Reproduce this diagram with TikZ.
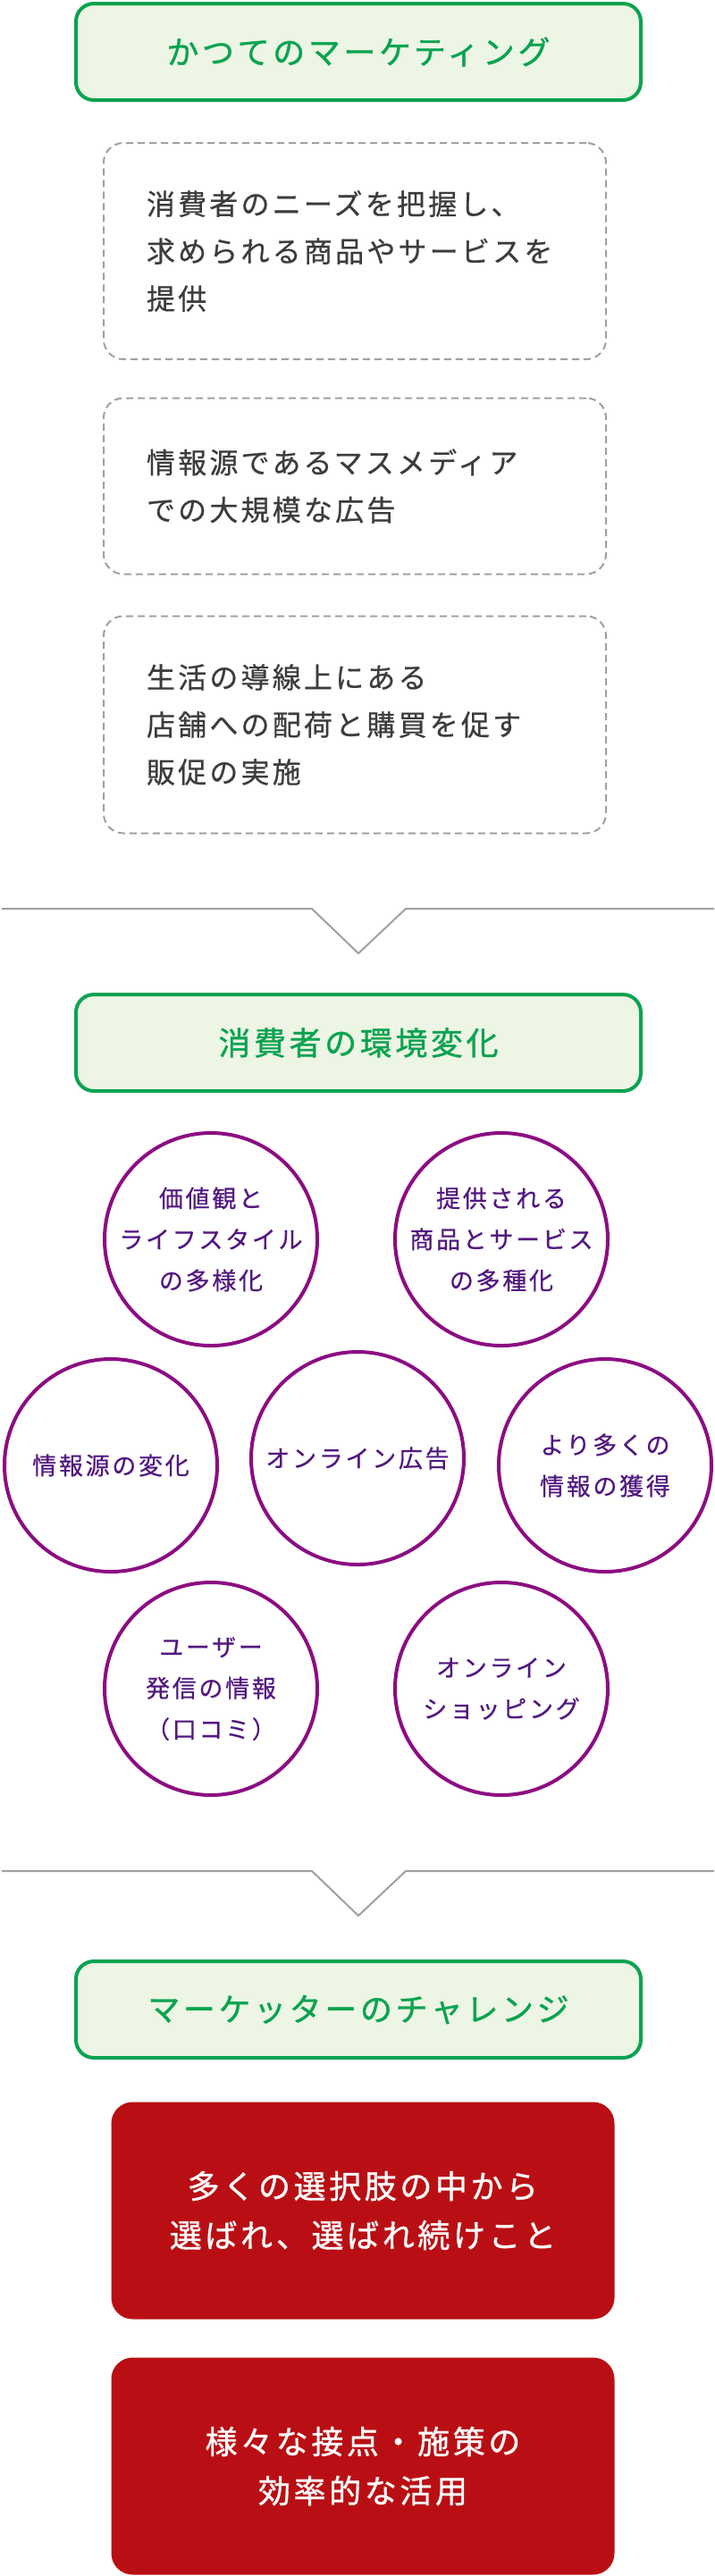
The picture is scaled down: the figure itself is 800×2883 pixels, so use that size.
\documentclass[tikz,border=0pt]{standalone}
\usepackage{fontspec}
\newfontfamily\jpfont[LetterSpace=10,FakeBold=0.6]{Noto Sans CJK JP}
\newfontfamily\jphead[LetterSpace=10,FakeBold=1]{Noto Sans CJK JP}
\usetikzlibrary{positioning}
\definecolor{mkgreen}{RGB}{10,163,80}
\definecolor{mkpale}{RGB}{237,245,228}
\definecolor{mkgray}{RGB}{160,160,160}
\definecolor{mktext}{RGB}{60,60,60}
\definecolor{mkplum}{RGB}{140,12,130}
\definecolor{mkink}{RGB}{82,24,128}
\definecolor{mkred}{RGB}{185,15,20}
\tikzset{headbox/.style={draw=mkgreen,fill=mkpale,line width=4pt,rounded corners=20pt,
    minimum width=632pt,minimum height=108pt,text=mkgreen,
    font=\jphead\fontsize{36}{44}\selectfont}}
\tikzset{oldbox/.style={draw=mkgray,line width=2pt,dash pattern=on 8pt off 5pt,
    rounded corners=22pt,minimum width=562pt,text width=466pt,inner sep=0pt,
    align=left,text=mktext,font=\jpfont\fontsize{32}{53}\selectfont}}
\tikzset{trend/.style={circle,draw=mkplum,line width=4pt,minimum size=238pt,inner sep=0pt,
    align=center,text=mkink,font=\jpfont\fontsize{27}{46}\selectfont}}
\tikzset{taskbox/.style={fill=mkred,rounded corners=24pt,minimum width=563pt,
    minimum height=243pt,align=center,text=white,
    font=\jphead\fontsize{36}{55}\selectfont}}

\begin{document}
\begin{tikzpicture}[x=1pt,y=-1pt]
\useasboundingbox (0,0) rectangle (800,2883);

% past marketing
\node[headbox] (past) at (401,58) {かつてのマーケティング};
\node[oldbox,minimum height=242pt] (needs) at (397,281) {消費者のニーズを把握し、\\求められる商品やサービスを\\提供};
\node[oldbox,minimum height=197pt] (media) at (397,544) {情報源であるマスメディア\\での大規模な広告};
\node[oldbox,minimum height=243pt] (promo) at (397,811) {生活の導線上にある\\店舗への配荷と購買を促す\\販促の実施};

% dividers
\foreach \y in {1017,2094}
  {
    \draw[mkgray,line width=2pt] (2,\y) -- (349,\y) -- (401,\y+50) -- (454,\y) -- (799,\y);
  }

% consumer environment
\node[headbox] (env) at (401,1167) {消費者の環境変化};
\node[trend] (values) at (236,1387) {価値観と\\ライフスタイル\\の多様化};
\node[trend] (goods) at (561,1387) {提供される\\商品とサービス\\の多種化};
\node[trend] (source) at (124,1640) {情報源の変化};
\node[trend] (webad) at (400,1632) {オンライン広告};
\node[trend] (moreinfo) at (677,1640) {より多くの\\情報の獲得};
\node[trend] (review) at (236,1890) {ユーザー\\発信の情報\\（口コミ）};
\node[trend] (eshop) at (561,1890) {オンライン\\ショッピング};

% challenge
\node[headbox] (chal) at (401,2249) {マーケッターのチャレンジ};
\node[taskbox] (chosen) at (406,2474) {多くの選択肢の中から\\選ばれ、選ばれ続けこと};
\node[taskbox] (touch) at (406,2760) {様々な接点・施策の\\効率的な活用};
\end{tikzpicture}
\end{document}
